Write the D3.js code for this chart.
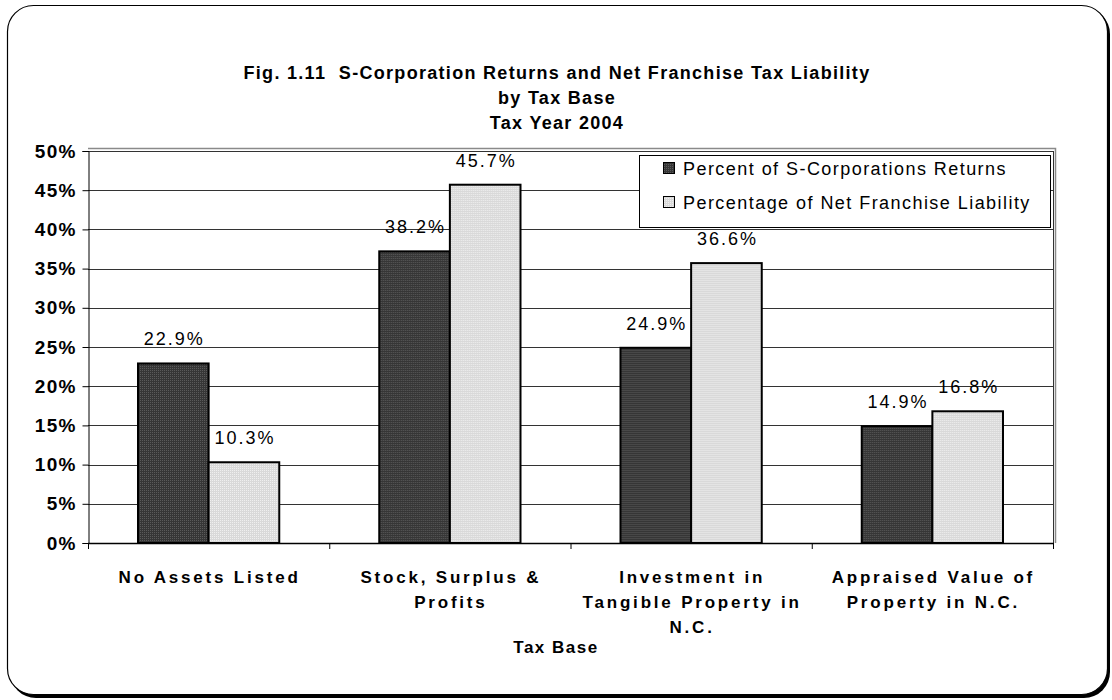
<!DOCTYPE html>
<html>
<head>
<meta charset="utf-8">
<script src="https://cdn.jsdelivr.net/npm/d3@7"></script>
<style>
  html, body { margin: 0; padding: 0; background: #fff; }
  svg { display: block; font-family: "Liberation Sans", Arial, sans-serif; }
</style>
</head>
<body>
<svg id="chart" width="1112" height="700"></svg>
<script>
// ---- data ----
const categories = [
  ["No Assets Listed"],
  ["Stock, Surplus &", "Profits"],
  ["Investment in", "Tangible Property in", "N.C."],
  ["Appraised Value of", "Property in N.C."]
];
const seriesNames = ["Percent of S-Corporations Returns", "Percentage of Net Franchise Liability"];
const returnsValues = [22.9, 37.2, 24.9, 14.9];
const liabilityValues = [10.3, 45.7, 35.7, 16.8];
const returnsLabels = ["22.9%", "38.2%", "24.9%", "14.9%"];
const liabilityLabels = ["10.3%", "45.7%", "36.6%", "16.8%"];
const yTicks = [0, 5, 10, 15, 20, 25, 30, 35, 40, 45, 50];
const titleLines = ["Fig. 1.11  S-Corporation Returns and Net Franchise Tax Liability", "by Tax Base", "Tax Year 2004"];
const xAxisTitle = "Tax Base";

// ---- layout ----
const svg = d3.select("#chart");
const plot = { left: 88, right: 1053, top: 151, bottom: 543 };

// patterns
const defs = svg.append("defs");
function dotPattern(id, base, dot) {
  const p = defs.append("pattern").attr("id", id).attr("patternUnits", "userSpaceOnUse")
    .attr("width", 2).attr("height", 2);
  p.append("rect").attr("width", 2).attr("height", 2).attr("fill", base);
  p.append("rect").attr("width", 1).attr("height", 1).attr("fill", dot);
}
dotPattern("darkPat", "#363636", "#5a5a5a");
dotPattern("lightPat", "#d9d9d9", "#efefef");
const fills = ["url(#darkPat)", "url(#lightPat)"];

// outer frame with shadow
svg.append("rect").attr("x", 10).attr("y", 8).attr("width", 1100).attr("height", 690)
  .attr("rx", 26).attr("ry", 26).attr("fill", "#000");
svg.append("rect").attr("x", 7.5).attr("y", 5.5).attr("width", 1100).attr("height", 689)
  .attr("rx", 26).attr("ry", 26).attr("fill", "#fff").attr("stroke", "#000").attr("stroke-width", 1.2);

// title
titleLines.forEach((t, i) => {
  svg.append("text").attr("text-anchor", "middle").attr("font-weight", "bold")
    .attr("font-size", 18).attr("letter-spacing", 1.3).attr("fill", "#000")
    .attr("x", 557).attr("y", 79 + i * 25)
    .attr("xml:space", "preserve").style("white-space", "pre")
    .text(t);
});

// scales
const x0 = d3.scaleBand().domain(d3.range(categories.length)).range([plot.left, plot.right])
  .paddingInner(0).paddingOuter(0);
const bandPad = 50;
const x1 = d3.scaleBand().domain([0, 1])
  .range([bandPad, x0.bandwidth() - bandPad]).padding(0);
const y = d3.scaleLinear().domain([0, 50]).range([plot.bottom, plot.top]);

// plot area outer gray border (top & right)
svg.append("path")
  .attr("d", `M${plot.left},${plot.top - 2.5} H${plot.right + 2.5} V${plot.bottom}`)
  .attr("fill", "none").attr("stroke", "#8a8a8a").attr("stroke-width", 1.5);

// gridlines
svg.append("g").selectAll("line").data(yTicks.filter(d => d > 0)).join("line")
  .attr("x1", plot.left).attr("x2", plot.right)
  .attr("y1", d => Math.round(y(d)) + 0.5).attr("y2", d => Math.round(y(d)) + 0.5)
  .attr("stroke", "#333").attr("stroke-width", 1);
// right border
svg.append("line").attr("x1", plot.right + 0.5).attr("x2", plot.right + 0.5)
  .attr("y1", plot.top).attr("y2", plot.bottom).attr("stroke", "#333");

// bars
const data = categories.map((c, i) => ({ i, vals: [returnsValues[i], liabilityValues[i]], labels: [returnsLabels[i], liabilityLabels[i]] }));
const groups = svg.append("g").selectAll("g").data(data).join("g")
  .attr("transform", d => `translate(${x0(d.i)},0)`);
groups.selectAll("rect").data(d => d.vals.map((v, s) => ({ v, s }))).join("rect")
  .attr("x", d => x1(d.s)).attr("width", x1.bandwidth())
  .attr("y", d => y(d.v)).attr("height", d => y(0) - y(d.v))
  .attr("fill", d => fills[d.s]).attr("stroke", "#000").attr("stroke-width", 2);
groups.selectAll("text").data(d => d.labels.map((l, s) => ({ l, s, v: d.vals[s] }))).join("text")
  .attr("x", d => x1(d.s) + x1.bandwidth() / 2 + 1)
  .attr("y", d => y(d.v) - 18)
  .attr("text-anchor", "middle").attr("font-size", 18).attr("letter-spacing", 2)
  .attr("fill", "#000")
  .text(d => d.l);

// y axis
const yAxis = d3.axisLeft(y).tickValues(yTicks).tickFormat(d => d + "%").tickSize(6).tickPadding(6);
const yg = svg.append("g").attr("transform", `translate(${plot.left + 0.5},0)`).call(yAxis);
yg.select(".domain").attr("stroke", "#000");
yg.selectAll(".tick line").attr("stroke", "#000");
yg.selectAll(".tick text").attr("font-size", 19).attr("font-weight", "bold")
  .attr("letter-spacing", 1.2)
  .attr("font-family", "Liberation Sans, Arial, sans-serif").attr("fill", "#000");

// x axis line + ticks at band boundaries
const xBounds = d3.range(categories.length + 1).map(i => plot.left + i * x0.step());
svg.append("line").attr("x1", plot.left).attr("x2", plot.right + 1)
  .attr("y1", plot.bottom + 0.5).attr("y2", plot.bottom + 0.5).attr("stroke", "#000").attr("stroke-width", 1.5);
svg.append("g").selectAll("line").data(xBounds).join("line")
  .attr("x1", d => d + 0.5).attr("x2", d => d + 0.5)
  .attr("y1", plot.bottom).attr("y2", plot.bottom + 6).attr("stroke", "#000");

// category labels
svg.append("g").selectAll("text").data(categories).join("text")
  .attr("text-anchor", "middle").attr("font-size", 17).attr("font-weight", "bold")
  .attr("letter-spacing", 2.8).attr("fill", "#000")
  .each(function (lines, i) {
    const t = d3.select(this);
    lines.forEach((ln, k) => {
      t.append("tspan").attr("x", x0(i) + x0.bandwidth() / 2 + 1).attr("y", 583 + k * 25).text(ln);
    });
  });

// x axis title
svg.append("text").attr("x", 556).attr("y", 653).attr("text-anchor", "middle")
  .attr("font-size", 17).attr("font-weight", "bold").attr("letter-spacing", 1.5)
  .attr("fill", "#000").text(xAxisTitle);

// legend
const lg = svg.append("g");
lg.append("rect").attr("x", 639.5).attr("y", 155.5).attr("width", 411).attr("height", 72)
  .attr("fill", "#fff").attr("stroke", "#000").attr("stroke-width", 1);
seriesNames.forEach((n, s) => {
  const cy = 168 + s * 34;
  lg.append("rect").attr("x", 663.5).attr("y", cy - 5.5).attr("width", 11).attr("height", 11)
    .attr("fill", fills[s]).attr("stroke", "#000").attr("stroke-width", 1);
  lg.append("text").attr("x", 683).attr("y", cy + 6.5).attr("font-size", 18)
    .attr("letter-spacing", 1.45).attr("fill", "#000").text(n);
});
</script>
</body>
</html>
